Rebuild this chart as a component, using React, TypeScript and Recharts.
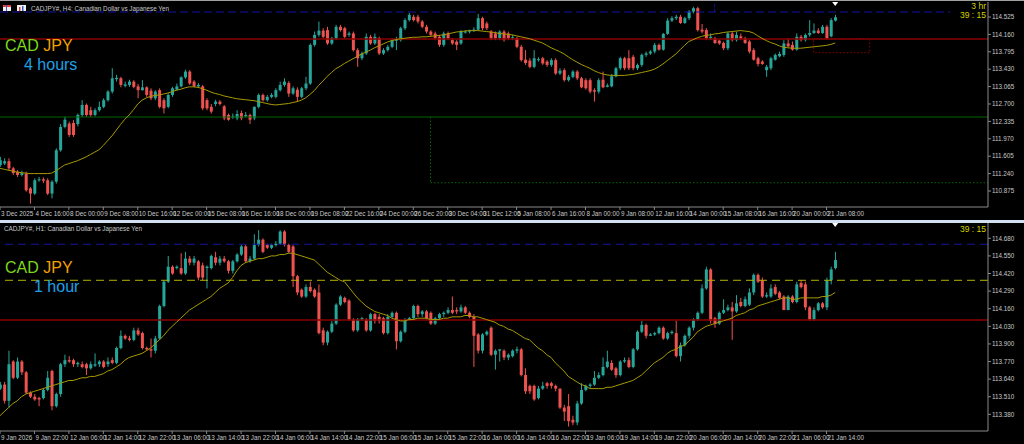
import React from 'react';
import { ComposedChart, Bar, Line, XAxis, YAxis, ReferenceLine, ReferenceArea, ReferenceDot } from 'recharts';

// ---------- H4 panel data ----------
const h4Open = [
111.42,111.45,111.50,111.35,111.28,111.21,111.24,110.93,110.82,111.10,
111.12,111.10,110.82,111.07,111.73,112.22,112.29,112.30,112.28,112.47,
112.68,112.57,112.47,112.57,112.64,112.78,112.96,113.22,113.24,113.08,
113.10,113.17,113.07,112.99,113.05,112.98,112.82,112.99,112.78,112.64,
112.89,113.00,113.07,113.26,113.38,113.17,113.07,113.07,112.78,112.64,
112.70,112.75,112.65,112.47,112.42,112.40,112.51,112.44,112.47,112.40,
112.64,112.89,112.78,112.85,112.85,112.99,113.10,113.14,112.92,113.00,
112.85,113.03,113.13,113.94,114.15,114.24,114.25,113.97,114.08,114.32,
114.29,114.15,114.18,113.83,113.66,113.76,114.11,113.97,114.08,113.76,
113.83,113.90,114.03,114.04,114.29,114.46,114.53,114.53,114.43,114.32,
114.22,114.18,114.11,113.94,114.18,114.04,114.01,113.97,114.20,114.22,
114.24,114.26,114.50,114.39,114.22,114.18,114.08,114.22,114.18,114.08,
114.08,113.90,113.63,113.61,113.48,113.62,113.66,113.59,113.52,113.62,
113.34,113.41,113.20,113.27,113.38,113.24,113.20,113.20,112.99,112.96,
113.21,113.06,113.07,113.28,113.45,113.66,113.66,113.69,113.45,113.52,
113.73,113.76,113.80,113.94,113.84,114.17,114.45,114.50,114.53,114.40,
114.50,114.64,114.71,114.26,114.25,114.08,114.08,114.03,113.98,113.87,
114.18,114.04,114.12,114.08,114.01,113.83,113.66,113.59,113.41,113.45,
113.63,113.70,113.73,113.97,113.94,113.84,114.11,114.04,114.15,114.19,
114.24,114.19,114.32,114.12,114.45];
const h4High = [
111.59,111.56,111.56,111.38,111.31,111.30,111.28,110.96,111.14,111.17,
111.16,111.14,111.10,111.77,112.28,112.43,112.33,112.36,112.50,112.78,
112.71,112.64,112.61,112.75,112.82,112.99,113.45,113.31,113.27,113.17,
113.21,113.20,113.12,113.20,113.07,113.03,112.99,113.03,112.82,112.92,
113.06,113.13,113.28,113.42,113.41,113.20,113.14,113.10,112.82,112.70,
112.79,112.78,112.68,112.50,112.50,112.57,112.56,112.53,112.50,112.65,
112.92,112.92,112.89,112.93,113.03,113.17,113.24,113.18,113.07,113.05,
113.06,113.27,113.97,114.22,114.43,114.29,114.32,114.11,114.36,114.36,
114.32,114.22,114.22,113.87,113.80,114.18,114.15,114.18,114.11,113.87,
113.94,114.08,114.11,114.32,114.50,114.61,114.57,114.57,114.46,114.36,
114.25,114.22,114.15,114.22,114.22,114.08,114.04,114.25,114.25,114.26,
114.31,114.59,114.53,114.43,114.25,114.22,114.25,114.25,114.22,114.15,
114.11,113.94,113.83,113.66,113.83,113.68,113.69,113.62,113.66,113.66,
113.45,113.45,113.31,113.41,113.41,113.27,113.24,113.24,113.03,113.24,
113.38,113.13,113.33,113.48,113.69,113.69,113.83,113.73,113.55,113.76,
113.80,113.83,113.98,113.97,114.19,114.50,114.54,114.57,114.57,114.53,
114.67,114.74,114.74,114.38,114.29,114.18,114.11,114.05,114.01,114.22,
114.22,114.22,114.18,114.11,114.04,113.87,113.69,113.62,113.52,113.69,
113.76,113.80,114.04,114.08,114.01,114.18,114.15,114.18,114.46,114.39,
114.29,114.36,114.36,114.50,114.57];
const h4Low = [
111.38,111.42,111.30,111.21,111.17,111.18,110.86,110.61,110.79,111.07,
111.04,110.79,110.72,111.03,111.70,112.19,112.01,112.01,112.23,112.43,
112.43,112.43,112.44,112.54,112.61,112.75,112.92,113.17,113.05,113.05,
113.06,113.03,112.82,112.98,112.85,112.78,112.78,112.61,112.50,112.61,
112.85,112.98,113.05,113.23,113.10,113.05,113.05,112.57,112.57,112.50,
112.65,112.67,112.36,112.35,112.39,112.36,112.36,112.42,112.28,112.36,
112.61,112.75,112.75,112.82,112.82,112.96,113.06,112.85,112.89,112.75,
112.82,112.99,113.10,113.90,114.11,114.08,113.94,113.94,114.04,114.22,
114.08,114.11,113.80,113.48,113.62,113.73,113.94,113.94,113.73,113.73,
113.80,113.87,113.83,114.01,114.25,114.43,114.43,114.39,114.29,114.18,
114.11,114.04,113.90,113.90,114.04,113.94,113.83,113.94,114.18,114.18,
114.21,114.24,114.25,114.25,114.04,114.04,114.04,114.01,114.04,114.04,
113.87,113.59,113.52,113.45,113.45,113.59,113.52,113.48,113.48,113.31,
113.31,113.17,113.17,113.24,113.20,113.03,113.00,112.92,112.75,112.92,
113.03,113.05,113.05,113.26,113.41,113.41,113.41,113.41,113.41,113.48,
113.69,113.73,113.76,113.82,113.82,114.15,114.42,114.46,114.38,114.38,
114.46,114.60,114.22,114.18,114.04,114.04,113.96,113.94,113.83,113.83,
114.01,114.01,114.04,113.96,113.76,113.61,113.49,113.52,113.27,113.41,
113.61,113.68,113.69,113.89,113.82,113.82,114.01,114.01,114.11,114.17,
114.17,114.17,114.05,114.10,114.43];
const h4Close = [
111.52,111.50,111.35,111.25,111.21,111.25,110.89,110.82,111.10,111.12,
111.09,110.82,111.07,111.73,112.22,112.37,112.05,112.05,112.47,112.68,
112.47,112.47,112.57,112.64,112.78,112.96,113.24,113.25,113.10,113.11,
113.17,113.06,112.99,113.05,112.89,112.82,112.96,112.64,112.61,112.89,
113.03,113.07,113.26,113.38,113.13,113.07,113.10,112.61,112.61,112.54,
112.75,112.70,112.40,112.37,112.44,112.49,112.40,112.47,112.37,112.64,
112.89,112.78,112.85,112.89,112.99,113.10,113.17,112.92,113.03,112.85,
113.03,113.13,113.94,114.15,114.24,114.11,113.97,114.08,114.32,114.25,
114.11,114.18,113.83,113.66,113.76,114.11,113.97,114.11,113.76,113.83,
113.90,114.04,114.05,114.29,114.46,114.57,114.46,114.43,114.32,114.22,
114.15,114.08,113.94,114.18,114.08,113.97,113.94,114.22,114.22,114.24,
114.26,114.50,114.29,114.29,114.08,114.08,114.22,114.04,114.08,114.10,
113.90,113.62,113.56,113.48,113.66,113.64,113.55,113.52,113.62,113.34,
113.40,113.20,113.27,113.38,113.24,113.05,113.03,112.96,112.96,113.20,
113.05,113.09,113.28,113.45,113.66,113.45,113.45,113.45,113.52,113.73,
113.76,113.80,113.94,113.84,114.17,114.45,114.50,114.53,114.40,114.50,
114.64,114.71,114.25,114.22,114.08,114.11,113.98,113.97,113.87,114.18,
114.04,114.15,114.08,113.98,113.80,113.63,113.54,113.54,113.48,113.66,
113.73,113.75,113.97,113.91,113.84,114.11,114.04,114.15,114.19,114.24,
114.19,114.32,114.08,114.46,114.52];
const h4Ma = [
111.35,111.33,111.31,111.29,111.27,111.26,111.25,111.24,111.24,111.24,
111.24,111.24,111.25,111.30,111.36,111.42,111.45,111.48,111.51,111.55,
111.59,111.64,111.69,111.74,111.83,111.93,112.03,112.15,112.27,112.38,
112.47,112.58,112.70,112.78,112.83,112.86,112.88,112.89,112.91,112.93,
112.96,112.99,113.01,113.04,113.06,113.06,113.05,113.02,112.99,112.95,
112.92,112.90,112.87,112.85,112.83,112.81,112.80,112.79,112.78,112.77,
112.75,112.73,112.71,112.69,112.68,112.69,112.70,112.71,112.73,112.75,
112.78,112.83,112.90,112.98,113.09,113.18,113.28,113.36,113.44,113.49,
113.55,113.60,113.65,113.70,113.75,113.79,113.83,113.88,113.92,113.96,
114.00,114.03,114.05,114.07,114.08,114.09,114.10,114.10,114.11,114.11,
114.12,114.13,114.14,114.15,114.17,114.19,114.21,114.22,114.23,114.24,
114.24,114.24,114.23,114.22,114.21,114.20,114.18,114.17,114.16,114.15,
114.13,114.11,114.09,114.07,114.04,114.01,113.98,113.93,113.88,113.84,
113.80,113.75,113.69,113.63,113.58,113.53,113.49,113.45,113.40,113.36,
113.33,113.31,113.30,113.30,113.30,113.30,113.31,113.32,113.34,113.36,
113.38,113.40,113.43,113.48,113.54,113.61,113.68,113.75,113.84,113.93,
114.01,114.05,114.09,114.12,114.14,114.15,114.17,114.18,114.20,114.21,
114.22,114.23,114.24,114.23,114.22,114.19,114.13,114.08,114.03,113.99,
113.96,113.92,113.89,113.88,113.87,113.87,113.87,113.88,113.89,113.90,
113.91,113.92,113.93,113.95,113.98];

// ---------- H1 panel data ----------
const h1Open = [
113.57,113.60,113.48,113.77,113.65,113.77,113.69,113.54,113.51,113.50,
113.50,113.56,113.70,113.44,113.53,113.75,113.78,113.78,113.75,113.75,
113.75,113.72,113.74,113.75,113.77,113.75,113.78,113.76,113.87,113.96,
113.94,113.93,114.00,113.98,113.87,113.86,113.85,113.94,114.18,114.36,
114.47,114.46,114.46,114.42,114.53,114.50,114.51,114.48,114.46,114.46,
114.54,114.50,114.53,114.51,114.44,114.51,114.56,114.62,114.51,114.53,
114.63,114.67,114.63,114.61,114.63,114.64,114.73,114.63,114.62,114.40,
114.30,114.25,114.32,114.30,114.28,114.00,113.91,113.99,114.05,114.19,
114.24,114.22,114.08,114.00,114.08,114.08,114.00,114.12,114.10,114.09,
113.98,114.10,114.13,113.92,113.99,114.08,114.09,114.18,114.12,114.14,
114.13,114.05,114.09,114.12,114.13,114.15,114.15,114.14,114.17,114.13,
114.10,113.97,113.85,113.97,114.02,113.82,113.85,113.85,113.80,113.81,
113.85,113.86,113.67,113.59,113.59,113.50,113.57,113.61,113.61,113.59,
113.57,113.43,113.44,113.34,113.32,113.46,113.56,113.59,113.60,113.65,
113.67,113.73,113.76,113.72,113.67,113.77,113.78,113.73,113.86,113.99,
114.04,113.96,113.97,113.98,114.02,113.94,113.98,113.98,113.81,113.89,
113.96,114.02,114.08,114.13,114.31,114.45,114.09,114.05,114.13,114.15,
114.17,114.14,114.21,114.18,114.19,114.28,114.41,114.37,114.25,114.25,
114.32,114.28,114.25,114.15,114.25,114.21,114.35,114.34,114.17,114.08,
114.15,114.20,114.17,114.37,114.46];
const h1High = [
113.62,113.62,113.85,113.78,113.80,113.78,113.70,113.55,113.53,113.51,
113.57,113.70,113.71,113.54,113.76,113.82,113.81,113.79,113.77,113.77,
113.76,113.77,113.83,113.78,113.78,113.80,113.80,113.88,114.00,113.97,
113.96,114.02,114.02,113.99,113.88,113.94,113.96,114.19,114.37,114.55,
114.48,114.48,114.57,114.58,114.55,114.55,114.52,114.50,114.48,114.56,
114.58,114.55,114.55,114.52,114.52,114.57,114.63,114.63,114.55,114.71,
114.74,114.68,114.64,114.64,114.66,114.74,114.74,114.64,114.63,114.41,
114.31,114.34,114.36,114.31,114.34,114.02,114.00,114.07,114.20,114.26,
114.25,114.23,114.09,114.09,114.10,114.09,114.13,114.13,114.12,114.10,
114.12,114.14,114.14,114.00,114.09,114.10,114.19,114.19,114.15,114.15,
114.14,114.10,114.13,114.14,114.17,114.25,114.17,114.19,114.18,114.14,
114.12,113.98,113.98,114.00,114.03,113.86,113.86,113.86,113.83,113.86,
113.88,113.87,113.72,113.60,113.60,113.59,113.62,113.62,113.62,113.60,
113.57,113.45,113.53,113.37,113.48,113.61,113.60,113.61,113.70,113.69,
113.80,113.85,113.78,113.73,113.78,113.80,113.80,113.87,114.00,114.07,
114.05,113.98,113.99,114.03,114.03,113.99,114.00,114.07,113.91,113.97,
114.03,114.09,114.14,114.34,114.47,114.46,114.10,114.14,114.23,114.19,
114.21,114.26,114.24,114.25,114.31,114.42,114.42,114.39,114.28,114.34,
114.34,114.29,114.26,114.26,114.26,114.36,114.37,114.36,114.18,114.17,
114.21,114.21,114.39,114.47,114.58];
const h1Low = [
113.56,113.46,113.43,113.64,113.64,113.67,113.53,113.50,113.48,113.44,
113.49,113.55,113.41,113.43,113.51,113.73,113.76,113.73,113.73,113.72,
113.67,113.71,113.73,113.73,113.72,113.73,113.75,113.75,113.86,113.93,
113.92,113.92,113.96,113.86,113.85,113.80,113.83,113.93,114.17,114.35,
114.41,114.45,114.41,114.41,114.48,114.48,114.37,114.37,114.31,114.45,
114.48,114.48,114.50,114.42,114.42,114.50,114.55,114.50,114.50,114.52,
114.62,114.57,114.60,114.60,114.62,114.63,114.62,114.57,114.32,114.26,
114.24,114.24,114.28,114.24,113.97,113.89,113.89,113.98,114.04,114.18,
114.20,114.07,113.99,113.99,114.07,113.99,113.99,114.05,114.05,113.97,
113.97,114.09,113.86,113.91,113.98,114.07,114.08,114.10,114.10,114.08,
114.04,114.04,114.08,114.10,114.12,114.12,114.12,114.13,114.12,114.09,
113.73,113.83,113.83,113.96,113.81,113.71,113.77,113.78,113.78,113.80,
113.83,113.66,113.53,113.53,113.48,113.49,113.56,113.57,113.57,113.55,
113.42,113.33,113.29,113.30,113.30,113.45,113.55,113.57,113.59,113.64,
113.66,113.72,113.70,113.65,113.66,113.76,113.72,113.72,113.85,113.98,
113.94,113.96,113.96,113.97,113.93,113.93,113.97,113.80,113.77,113.88,
113.94,114.00,114.07,114.12,114.30,114.05,114.02,114.04,114.12,114.14,
113.93,114.13,114.17,114.17,114.18,114.26,114.35,114.24,114.24,114.24,
114.26,114.23,114.15,114.15,114.20,114.20,114.31,114.15,114.07,114.07,
114.14,114.16,114.15,114.34,114.45];
const h1Close = [
113.60,113.48,113.75,113.65,113.77,113.69,113.54,113.51,113.49,113.49,
113.56,113.65,113.44,113.53,113.75,113.78,113.77,113.75,113.76,113.73,
113.72,113.75,113.75,113.77,113.73,113.77,113.76,113.87,113.96,113.94,
113.93,114.00,113.97,113.87,113.86,113.85,113.94,114.18,114.36,114.47,
114.42,114.47,114.42,114.53,114.50,114.53,114.39,114.39,114.47,114.55,
114.50,114.53,114.51,114.44,114.51,114.56,114.62,114.51,114.53,114.63,
114.67,114.58,114.61,114.63,114.64,114.73,114.63,114.58,114.40,114.28,
114.25,114.32,114.29,114.25,113.98,113.91,113.99,114.05,114.19,114.25,
114.21,114.08,114.00,114.08,114.09,114.00,114.12,114.07,114.07,113.98,
114.10,114.13,113.92,113.99,114.08,114.09,114.18,114.12,114.14,114.09,
114.05,114.09,114.12,114.13,114.15,114.13,114.14,114.17,114.13,114.10,
113.96,113.85,113.97,113.99,113.82,113.85,113.86,113.80,113.82,113.85,
113.86,113.67,113.55,113.55,113.49,113.57,113.59,113.59,113.59,113.57,
113.43,113.40,113.33,113.32,113.46,113.56,113.59,113.60,113.65,113.67,
113.73,113.77,113.71,113.67,113.77,113.78,113.73,113.86,113.99,114.04,
113.96,113.97,113.98,114.02,113.94,113.98,113.99,113.81,113.89,113.96,
114.02,114.08,114.13,114.31,114.45,114.07,114.05,114.13,114.15,114.17,
114.14,114.20,114.18,114.23,114.28,114.41,114.36,114.25,114.26,114.31,
114.27,114.24,114.15,114.25,114.21,114.34,114.32,114.17,114.08,114.15,
114.20,114.17,114.37,114.45,114.52];
const h1Ma = [
113.37,113.40,113.43,113.46,113.48,113.51,113.53,113.54,113.55,113.56,
113.57,113.58,113.59,113.60,113.61,113.62,113.63,113.63,113.64,113.65,
113.65,113.66,113.66,113.67,113.68,113.70,113.71,113.73,113.75,113.78,
113.80,113.81,113.82,113.83,113.85,113.87,113.90,113.93,113.96,114.00,
114.03,114.06,114.09,114.12,114.15,114.17,114.19,114.21,114.23,114.25,
114.28,114.31,114.33,114.35,114.39,114.44,114.48,114.50,114.51,114.52,
114.53,114.53,114.54,114.55,114.55,114.56,114.56,114.57,114.57,114.56,
114.55,114.54,114.53,114.52,114.49,114.46,114.43,114.41,114.39,114.37,
114.36,114.32,114.28,114.24,114.21,114.18,114.16,114.14,114.13,114.12,
114.11,114.09,114.08,114.07,114.07,114.08,114.08,114.09,114.09,114.09,
114.08,114.08,114.08,114.09,114.09,114.10,114.10,114.10,114.11,114.11,
114.10,114.10,114.09,114.08,114.07,114.06,114.04,114.03,114.01,114.00,
113.98,113.96,113.94,113.93,113.90,113.87,113.85,113.82,113.80,113.76,
113.73,113.70,113.66,113.64,113.62,113.60,113.59,113.57,113.57,113.57,
113.57,113.58,113.58,113.59,113.60,113.61,113.62,113.63,113.65,113.67,
113.70,113.73,113.76,113.78,113.80,113.83,113.85,113.86,113.88,113.89,
113.92,113.95,113.99,114.01,114.03,114.04,114.05,114.06,114.07,114.08,
114.09,114.11,114.12,114.13,114.15,114.16,114.18,114.19,114.20,114.21,
114.22,114.23,114.24,114.24,114.23,114.23,114.24,114.24,114.24,114.24,
114.24,114.25,114.25,114.26,114.28];

// ---------- axes ----------
const h4Labels = ['3 Dec 2025','4 Dec 16:00','8 Dec 00:00','9 Dec 08:00','10 Dec 16:00','12 Dec 00:00','15 Dec 08:00','16 Dec 16:00','18 Dec 00:00','19 Dec 08:00','22 Dec 16:00','24 Dec 00:00','26 Dec 20:00','30 Dec 04:00','31 Dec 12:00','5 Jan 08:00','6 Jan 16:00','8 Jan 00:00','9 Jan 08:00','12 Jan 16:00','14 Jan 00:00','15 Jan 08:00','16 Jan 16:00','20 Jan 00:00','21 Jan 08:00'];
const h1Labels = ['9 Jan 2026','9 Jan 22:00','12 Jan 06:00','12 Jan 14:00','12 Jan 22:00','13 Jan 06:00','13 Jan 14:00','13 Jan 22:00','14 Jan 06:00','14 Jan 14:00','14 Jan 22:00','15 Jan 06:00','15 Jan 14:00','15 Jan 22:00','16 Jan 06:00','16 Jan 14:00','16 Jan 22:00','19 Jan 06:00','19 Jan 14:00','19 Jan 22:00','20 Jan 06:00','20 Jan 14:00','20 Jan 22:00','21 Jan 06:00','21 Jan 14:00'];
const h4YTicks = [114.525,114.16,113.795,113.43,113.065,112.7,112.335,111.97,111.605,111.24,110.875];
const h1YTicks = [114.68,114.55,114.42,114.29,114.16,114.03,113.9,113.77,113.64,113.51,113.38];
const LABEL_STEP = 8;
const SLOT_COUNT = 229.5;
const h4Domain = [110.539, 114.84];
const h1Domain = [113.257, 114.793];

// reference objects
const h4BlueLevel = 114.63;
const h4BlueEnd = 220.7;
const h4RedLevel = 114.063;
const h4GreenLevel = 112.427;
const h4GreenDotLevel = 111.049;
const h4GreenDotStart = 100;
const h4BlueMarkX = 166;
const h4BoxX = [189, 202];
const h4BoxLow = 113.776;
const h1BlueLevel = 114.636;
const h1YellowLevel = 114.37;
const h1RedLevel = 114.077;
const lastBar = 194;

const UP = '#26a69a';
const DOWN = '#ef5350';
const AXIS = '#8a8a8a';
const TXT = '#c8c8c8';
const FONT = '"Liberation Sans", Arial, sans-serif';

const build = (o: number[], h: number[], l: number[], c: number[], m: number[]) =>
  c.map((v, i) => ({ i, open: o[i], high: h[i], low: l[i], close: v, ma: m[i] }));

const h4Data = build(h4Open, h4High, h4Low, h4Close, h4Ma);
const h1Data = build(h1Open, h1High, h1Low, h1Close, h1Ma);
const tickIdx = h4Labels.map((_, k) => k * LABEL_STEP);

const Candle = (props: any) => {
  const { x, y, width, height, payload } = props;
  if (!payload || payload.high == null) return null;
  const top = Math.min(y, y + height);
  const bot = Math.max(y, y + height);
  const span = payload.high - payload.low;
  const py = (v: number) => (span === 0 ? top : top + ((payload.high - v) / span) * (bot - top));
  const up = payload.close >= payload.open;
  const color = up ? UP : DOWN;
  const cx = x + width / 2;
  const yo = py(payload.open);
  const yc = py(payload.close);
  const bt = Math.min(yo, yc);
  const bh = Math.max(1, Math.abs(yo - yc));
  return (
    <g>
      <line x1={cx} x2={cx} y1={top} y2={bot} stroke={color} strokeWidth={1} />
      <rect x={x} y={bt} width={width} height={bh} fill={color} />
    </g>
  );
};

const makeXTick = (labels: string[]) => (props: any) => {
  const { x, y, payload } = props;
  const k = Math.round(payload.value / LABEL_STEP);
  return (
    <text x={x + 1} y={y + 5.5} fill={TXT} fontSize={6.3} fontFamily={FONT} textAnchor="start">
      {labels[k]}
    </text>
  );
};

const Tri = (props: any) => {
  const { cx, cy } = props;
  return <polygon points={`${cx - 3},${cy} ${cx + 3},${cy} ${cx},${cy + 4}`} fill="#ffffff" />;
};

const Panel = ({ data, labels, yTicks, domain, height, top, children }: any) => (
  <div style={{ position: 'absolute', left: 0, top }}>
    <ComposedChart width={1024} height={height} data={data} margin={{ top: 2, right: 0, bottom: 0, left: 0 }}>
      <XAxis
        type="number"
        dataKey="i"
        domain={[0, SLOT_COUNT]}
        ticks={tickIdx}
        interval={0}
        allowDataOverflow
        height={13}
        tickSize={3}
        tickMargin={0}
        tickLine={{ stroke: AXIS }}
        axisLine={{ stroke: AXIS }}
        tick={makeXTick(labels)}
      />
      <YAxis
        orientation="right"
        width={36}
        domain={domain}
        ticks={yTicks}
        interval={0}
        allowDataOverflow
        tickSize={3}
        tickMargin={1}
        tickLine={{ stroke: AXIS }}
        axisLine={{ stroke: AXIS }}
        tick={{ fill: TXT, fontSize: 6.3, fontFamily: FONT }}
        tickFormatter={(v: number) => v.toFixed(3)}
      />
      {children}
      <Bar dataKey={(d: any) => [d.low, d.high]} barSize={3} shape={<Candle />} isAnimationActive={false} />
      <Line dataKey="ma" stroke="#a89b00" strokeWidth={1} dot={false} isAnimationActive={false} />
      <ReferenceDot x={lastBar} y={domain[1]} r={3} shape={<Tri />} ifOverflow="visible" />
    </ComposedChart>
  </div>
);

const BIG = '"Liberation Sans", Arial, sans-serif';

export default function App() {
  return (
    <div style={{ position: 'absolute', left: 0, top: 0, width: 1024, height: 444, background: '#000', overflow: 'hidden' }}>
      <Panel data={h4Data} labels={h4Labels} yTicks={h4YTicks} domain={h4Domain} height={220} top={0}>
        <ReferenceLine segment={[{ x: 0, y: h4BlueLevel }, { x: h4BlueEnd, y: h4BlueLevel }]} stroke="#1414a0" strokeDasharray="8 4" />
        <ReferenceLine segment={[{ x: h4BlueMarkX, y: h4BlueLevel }, { x: h4BlueMarkX, y: h4Domain[1] }]} stroke="#1414a0" strokeDasharray="3 2" />
        <ReferenceLine y={h4RedLevel} stroke="#8b0000" strokeWidth={1.5} />
        <ReferenceLine y={h4GreenLevel} stroke="#006400" strokeWidth={1} />
        <ReferenceLine segment={[{ x: h4GreenDotStart, y: h4GreenDotLevel }, { x: SLOT_COUNT, y: h4GreenDotLevel }]} stroke="#006400" strokeDasharray="1.5 2" />
        <ReferenceLine segment={[{ x: h4GreenDotStart, y: h4GreenLevel }, { x: h4GreenDotStart, y: h4GreenDotLevel }]} stroke="#006400" strokeDasharray="1.5 2" />
        <ReferenceArea x1={h4BoxX[0]} x2={h4BoxX[1]} y1={h4BoxLow} y2={h4RedLevel} fill="none" stroke="#8b0000" strokeDasharray="1.5 2" />
      </Panel>
      <Panel data={h1Data} labels={h1Labels} yTicks={h1YTicks} domain={h1Domain} height={223} top={221}>
        <ReferenceLine y={h1BlueLevel} stroke="#1414a0" strokeDasharray="8 5" />
        <ReferenceLine y={h1YellowLevel} stroke="#b4b400" strokeDasharray="8 5" />
        <ReferenceLine y={h1RedLevel} stroke="#8b0000" strokeWidth={1.5} />
      </Panel>
      <div style={{ position: 'absolute', left: 0, top: 0, width: 1024, height: 1, background: '#a0a0a0' }} />
      <div style={{ position: 'absolute', left: 0, top: 220, width: 1024, height: 3, background: '#d0e0f0' }} />
      <svg width={1024} height={444} style={{ position: 'absolute', left: 0, top: 0, pointerEvents: 'none' }}>
        <rect x={3} y={5} width={8} height={6} fill="#f0f0f0" />
        <rect x={3} y={5} width={8} height={2} fill="#e04040" />
        <rect x={6} y={5} width={1} height={6} fill="#4060c0" />
        <rect x={17} y={5} width={9} height={6} fill="#f0f0f0" />
        <rect x={19} y={7} width={1.5} height={4} fill="#e04040" />
        <rect x={22} y={6} width={1.5} height={5} fill="#3060c0" />
        <text x={31} y={11} fill={TXT} fontSize={6.3} fontFamily={FONT}>CADJPY#, H4:  Canadian Dollar vs Japanese Yen</text>
        <text x={4} y={230.5} fill={TXT} fontSize={6.3} fontFamily={FONT}>CADJPY#, H1:  Canadian Dollar vs Japanese Yen</text>
        <text x={5} y={51.2} fontSize={16} fontFamily={BIG}>
          <tspan fill="#7cd81c">CAD </tspan><tspan fill="#f5a000">JPY</tspan>
        </text>
        <text x={24} y={69.6} fontSize={16} fontFamily={BIG} fill="#1ea0e6">4 hours</text>
        <text x={5} y={273.2} fontSize={16} fontFamily={BIG}>
          <tspan fill="#7cd81c">CAD </tspan><tspan fill="#f5a000">JPY</tspan>
        </text>
        <text x={34} y={291.6} fontSize={16} fontFamily={BIG} fill="#1ea0e6">1 hour</text>
        <text x={986} y={9} textAnchor="end" fontSize={8.5} fontFamily={FONT} fill="#d4d400">3 hr</text>
        <text x={986} y={17.7} textAnchor="end" fontSize={8.5} fontFamily={FONT} fill="#d4d400">39 : 15</text>
        <text x={986} y={232} textAnchor="end" fontSize={8.5} fontFamily={FONT} fill="#d4d400">39 : 15</text>
      </svg>
    </div>
  );
}
